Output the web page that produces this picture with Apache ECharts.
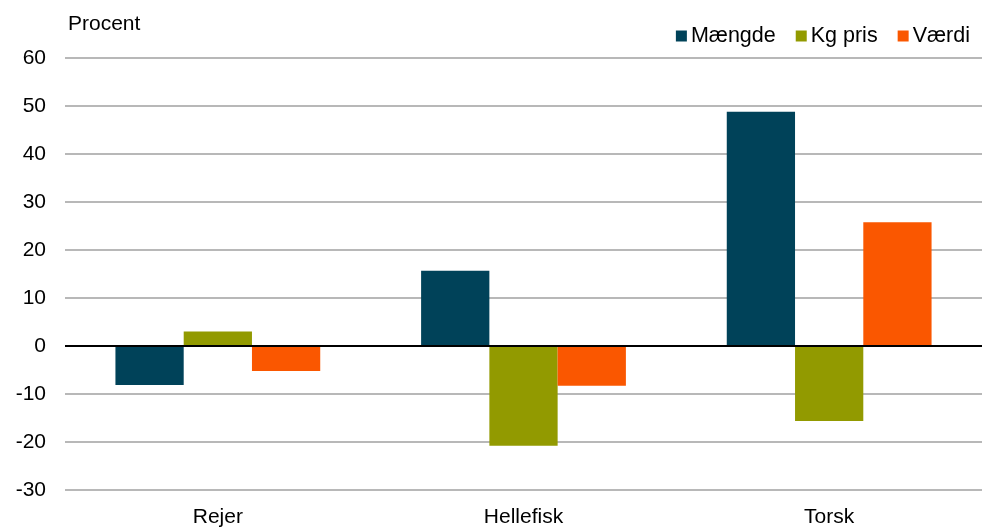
<!DOCTYPE html>
<html><head><meta charset="utf-8">
<script src="https://cdn.jsdelivr.net/npm/echarts@6/dist/echarts.min.js"></script>
<style>html,body{margin:0;padding:0;background:#fff}#c{width:993px;height:529px}</style>
</head><body><div id="c"></div>
<script>
const categories = ['Rejer', 'Hellefisk', 'Torsk'];
const maengde = [-8.1, 15.7, 48.8];
const kgPris = [3.0, -20.8, -15.6];
const vaerdi = [-5.2, -8.3, 25.8];
const seriesNames = ['Mængde', 'Kg pris', 'Værdi'];
const colors = ['#004259', '#929A00', '#FA5700'];

const chart = echarts.init(document.getElementById('c'));
const font = 'Liberation Sans, Arial, sans-serif';
chart.setOption({
  animation: false,
  textStyle: { fontFamily: font },
  grid: { left: 65, right: 11, top: 58, bottom: 39 },
  legend: {
    right: 18, top: 20, itemWidth: 11, itemHeight: 11, itemGap: 20,
    icon: 'rect',
    textStyle: { fontSize: 21.5, color: '#000', fontFamily: font, padding: [0, 0, 0, -1] },
    data: seriesNames
  },
  title: { text: 'Procent', left: 68, top: 14, padding: 0, textStyle: { fontSize: 21, fontWeight: 'normal', color: '#000', fontFamily: font } },
  xAxis: {
    type: 'category', data: categories,
    axisLine: { show: false }, axisTick: { show: false },
    axisLabel: { fontSize: 21, color: '#000', margin: 17, fontFamily: font }
  },
  yAxis: {
    type: 'value', min: -30, max: 60, interval: 10,
    axisLine: { show: false }, axisTick: { show: false },
    axisLabel: { fontSize: 21, color: '#000', margin: 19, fontFamily: font },
    splitLine: { lineStyle: { color: '#A0A0A0', width: 1.5 } }
  },
  series: [
    { name: seriesNames[0], type: 'bar', data: maengde, itemStyle: { color: colors[0] }, barGap: '0%', barCategoryGap: '33%',
      markLine: { silent: true, symbol: 'none', label: { show: false }, lineStyle: { color: '#000', width: 2, type: 'solid' }, data: [{ yAxis: 0 }] } },
    { name: seriesNames[1], type: 'bar', data: kgPris, itemStyle: { color: colors[1] }, barGap: '0%', barCategoryGap: '33%' },
    { name: seriesNames[2], type: 'bar', data: vaerdi, itemStyle: { color: colors[2] }, barGap: '0%', barCategoryGap: '33%' }
  ]
});
</script></body></html>
